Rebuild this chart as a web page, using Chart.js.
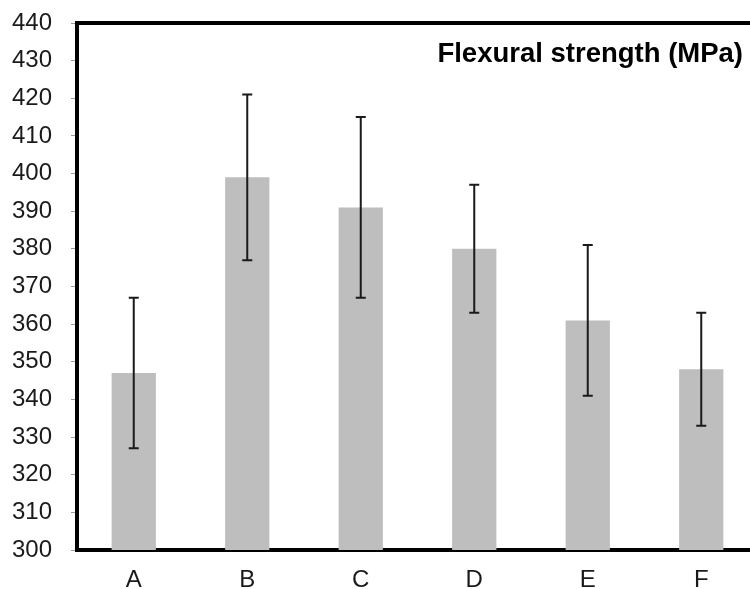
<!DOCTYPE html>
<html>
<head>
<meta charset="utf-8">
<script src="https://cdn.jsdelivr.net/npm/chart.js@4"></script>
<style>
  html, body { margin: 0; padding: 0; background: #fff; overflow: hidden; }
  #wrap { width: 758px; height: 589px; }
</style>
</head>
<body>
<div id="wrap"><canvas id="grafica" width="758" height="589"></canvas></div>
<script>
// datos
const categorias = ["A", "B", "C", "D", "E", "F"];
const resistencia = [347, 399, 391, 380, 361, 348];
const errorSup = [367, 421, 415, 397, 381, 363];
const errorInf = [327, 377, 367, 363, 341, 333];
const titulo = "Flexural strength (MPa)";

const fuente = "'Liberation Sans', Arial, sans-serif";

// barras de error + borde superior + titulo
const extras = {
    id: "extras",
    afterDatasetsDraw(chart) {
        const ctx = chart.ctx;
        const y = chart.scales.y;
        const meta = chart.getDatasetMeta(0);
        ctx.save();
        ctx.strokeStyle = "#1a1a1a";
        ctx.lineWidth = 2;
        meta.data.forEach((bar, i) => {
            const yTop = y.getPixelForValue(errorSup[i]);
            const yBot = y.getPixelForValue(errorInf[i]);
            ctx.beginPath();
            ctx.moveTo(bar.x, yTop);
            ctx.lineTo(bar.x, yBot);
            ctx.moveTo(bar.x - 5, yTop);
            ctx.lineTo(bar.x + 5, yTop);
            ctx.moveTo(bar.x - 5, yBot);
            ctx.lineTo(bar.x + 5, yBot);
            ctx.stroke();
        });
        ctx.restore();
    },
    afterDraw(chart) {
        const ctx = chart.ctx;
        const area = chart.chartArea;
        ctx.save();
        ctx.strokeStyle = "#000";
        ctx.lineWidth = 4;
        ctx.beginPath();
        ctx.moveTo(area.left - 2, area.top);
        ctx.lineTo(chart.width, area.top);
        ctx.stroke();
        ctx.fillStyle = "#000";
        ctx.font = "bold 27.5px " + fuente;
        ctx.textAlign = "right";
        ctx.textBaseline = "middle";
        ctx.fillText(titulo, 743, area.top + 31);
        ctx.restore();
    }
};

new Chart(document.getElementById("grafica").getContext("2d"), {
    type: "bar",
    data: {
        labels: categorias,
        datasets: [{
            data: resistencia,
            backgroundColor: "#bebebe",
            borderWidth: 0,
            barPercentage: 0.39,
            categoryPercentage: 1
        }]
    },
    options: {
        responsive: false,
        animation: false,
        layout: { padding: { top: 23, right: 0, left: 0, bottom: 0 } },
        plugins: {
            legend: { display: false },
            tooltip: { enabled: false }
        },
        scales: {
            x: {
                grid: { display: false, drawTicks: false },
                border: { display: true, color: "#000", width: 4 },
                ticks: { color: "#1a1a1a", font: { family: fuente, size: 24 }, padding: 16 },
                afterFit: (s) => { s.height = 39; }
            },
            y: {
                min: 300,
                max: 440,
                grid: { drawOnChartArea: false, drawTicks: true, tickLength: 6, color: "#999" },
                border: { display: true, color: "#000", width: 4 },
                ticks: { stepSize: 10, color: "#1a1a1a", font: { family: fuente, size: 24 }, padding: 19 },
                afterFit: (s) => { s.width = 77; s.paddingTop = 0; s.paddingBottom = 0; }
            }
        }
    },
    plugins: [extras]
});
</script>
</body>
</html>
